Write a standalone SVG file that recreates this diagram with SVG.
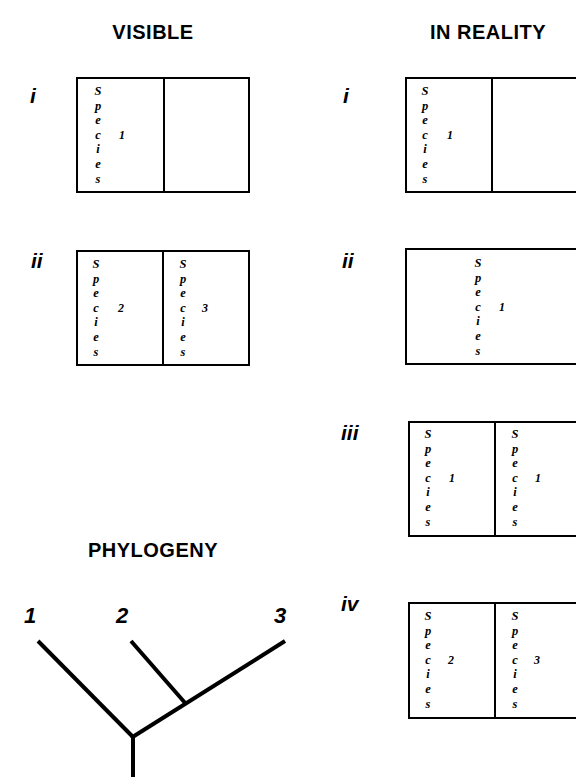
<svg xmlns="http://www.w3.org/2000/svg" width="576" height="777" viewBox="0 0 576 777">
  <style>
    .title { font-family: "Liberation Sans", Arial, sans-serif; font-weight: bold; font-size: 20px; fill: #000; letter-spacing: 0.5px; }
    .row { font-family: "Liberation Sans", Arial, sans-serif; font-weight: bold; font-style: italic; font-size: 21px; fill: #000; }
    .tip { font-family: "Liberation Sans", Arial, sans-serif; font-weight: bold; font-style: italic; font-size: 22px; fill: #000; }
    .sp { font-family: "Liberation Serif", "Times New Roman", serif; font-weight: bold; font-style: italic; font-size: 12.5px; fill: #000; }
    .num { font-family: "Liberation Serif", "Times New Roman", serif; font-style: italic; font-weight: bold; font-size: 12px; fill: #000; }
    .box { fill: #fff; stroke: #000; stroke-width: 2; }
    .div { stroke: #000; stroke-width: 2; }
    .branch { stroke: #000; stroke-width: 4; fill: none; stroke-linecap: butt; }
  </style>
  <defs>
    <!-- vertically stacked "Species" label, origin at the "S" baseline -->
    <g id="species">
      <text class="sp" x="0" y="0" text-anchor="middle">S</text>
      <text class="sp" x="0" y="14.6" text-anchor="middle">p</text>
      <text class="sp" x="0" y="29.2" text-anchor="middle">e</text>
      <text class="sp" x="0" y="43.8" text-anchor="middle">c</text>
      <text class="sp" x="0" y="58.4" text-anchor="middle">i</text>
      <text class="sp" x="0" y="73" text-anchor="middle">e</text>
      <text class="sp" x="0" y="87.6" text-anchor="middle">s</text>
    </g>
  </defs>

  <rect width="576" height="777" fill="#fff"/>

  <!-- column headings -->
  <text class="title" x="153" y="39" text-anchor="middle">VISIBLE</text>
  <text class="title" x="488" y="39" text-anchor="middle">IN REALITY</text>

  <!-- VISIBLE, row i -->
  <g id="visible-i">
    <text class="row" x="30" y="103">i</text>
    <rect class="box" x="77" y="78" width="172" height="114"/>
    <line class="div" x1="164" y1="78" x2="164" y2="192"/>
    <use href="#species" x="98" y="95"/>
    <text class="num" x="122" y="139" text-anchor="middle">1</text>
  </g>

  <!-- VISIBLE, row ii -->
  <g id="visible-ii">
    <text class="row" x="31" y="268">ii</text>
    <rect class="box" x="77" y="251" width="172" height="114"/>
    <line class="div" x1="163" y1="251" x2="163" y2="365"/>
    <use href="#species" x="96" y="268"/>
    <text class="num" x="121" y="312" text-anchor="middle">2</text>
    <use href="#species" x="183" y="268"/>
    <text class="num" x="205" y="312" text-anchor="middle">3</text>
  </g>

  <!-- IN REALITY, row i -->
  <g id="reality-i">
    <text class="row" x="343" y="103">i</text>
    <rect class="box" x="406" y="78" width="180" height="114"/>
    <line class="div" x1="492" y1="78" x2="492" y2="192"/>
    <use href="#species" x="425" y="95"/>
    <text class="num" x="450" y="139" text-anchor="middle">1</text>
  </g>

  <!-- IN REALITY, row ii -->
  <g id="reality-ii">
    <text class="row" x="342" y="268">ii</text>
    <rect class="box" x="406" y="249" width="180" height="115"/>
    <use href="#species" x="478" y="267"/>
    <text class="num" x="502" y="311" text-anchor="middle">1</text>
  </g>

  <!-- IN REALITY, row iii -->
  <g id="reality-iii">
    <text class="row" x="341" y="440">iii</text>
    <rect class="box" x="409" y="422" width="180" height="114"/>
    <line class="div" x1="495" y1="422" x2="495" y2="536"/>
    <use href="#species" x="428" y="438"/>
    <text class="num" x="452" y="482" text-anchor="middle">1</text>
    <use href="#species" x="515" y="438"/>
    <text class="num" x="538" y="482" text-anchor="middle">1</text>
  </g>

  <!-- IN REALITY, row iv -->
  <g id="reality-iv">
    <text class="row" x="341" y="611">iv</text>
    <rect class="box" x="409" y="603" width="180" height="115"/>
    <line class="div" x1="495" y1="603" x2="495" y2="718"/>
    <use href="#species" x="428" y="620"/>
    <text class="num" x="451" y="664" text-anchor="middle">2</text>
    <use href="#species" x="515" y="620"/>
    <text class="num" x="537" y="664" text-anchor="middle">3</text>
  </g>

  <!-- phylogeny -->
  <text class="title" x="153" y="557" text-anchor="middle">PHYLOGENY</text>
  <g id="tip-1"><text class="tip" x="24" y="623">1</text></g>
  <g id="tip-2"><text class="tip" x="116" y="623">2</text></g>
  <g id="tip-3"><text class="tip" x="274" y="623">3</text></g>

  <g id="connectors">
    <line class="branch" x1="38" y1="641" x2="133" y2="737"/>
    <line class="branch" x1="131" y1="641" x2="186" y2="704"/>
    <line class="branch" x1="131" y1="738" x2="285" y2="641"/>
    <line class="branch" x1="133" y1="737" x2="133" y2="777"/>
  </g>
</svg>
